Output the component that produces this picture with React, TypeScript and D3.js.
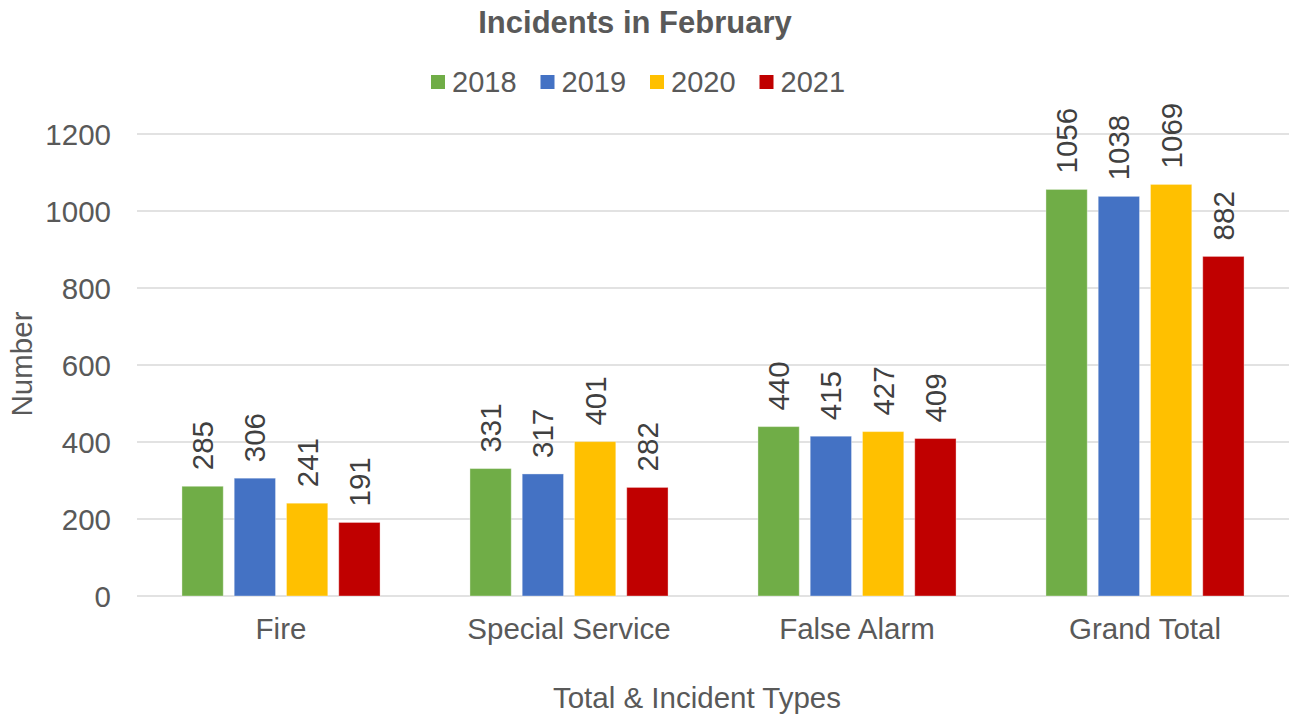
import React from "react";
import * as d3 from "d3";

const categories = ["Fire", "Special Service", "False Alarm", "Grand Total"];
const years = ["2018", "2019", "2020", "2021"];
const values2018 = [285, 331, 440, 1056];
const values2019 = [306, 317, 415, 1038];
const values2020 = [241, 401, 427, 1069];
const values2021 = [191, 282, 409, 882];
const yTicks = [0, 200, 400, 600, 800, 1000, 1200];
const seriesColors = ["#70ad47", "#4472c4", "#ffc000", "#c00000"];

const series = [values2018, values2019, values2020, values2021];

const W = 1295;
const H = 717;
const plot = { left: 137, right: 1289, top: 134, bottom: 596 };
const textColor = "#595959";
const font = "'Liberation Sans', Arial, sans-serif";

export default function App() {
  const x0 = d3.scaleBand<string>().domain(categories).range([plot.left, plot.right]).paddingInner(0);
  const x1 = d3
    .scaleBand<string>()
    .domain(years)
    .range([0, x0.bandwidth()])
    .paddingInner(0.21)
    .paddingOuter(0.86);
  const y = d3.scaleLinear().domain([0, 1200]).range([plot.bottom, plot.top]);

  return (
    <svg
      width={W}
      height={H}
      style={{ position: "absolute", left: 0, top: 0, background: "#fff" }}
      fontFamily={font}
    >
      {/* title */}
      <text x={635} y={33} textAnchor="middle" fontSize={31} fontWeight="bold" fill={textColor}>
        Incidents in February
      </text>

      {/* legend */}
      {years.map((yr, i) => {
        const lx = 431 + i * 109.5;
        return (
          <g key={yr}>
            <rect x={lx} y={75} width={14} height={14} fill={seriesColors[i]} />
            <text x={lx + 21} y={92} fontSize={29} fill={textColor}>
              {yr}
            </text>
          </g>
        );
      })}

      {/* gridlines + y tick labels */}
      {yTicks.map((t) => (
        <g key={t}>
          <line
            x1={plot.left}
            x2={plot.right}
            y1={y(t)}
            y2={y(t)}
            stroke="#d9d9d9"
            strokeWidth={1.5}
          />
          <text
            x={111}
            y={y(t)}
            dy="0.36em"
            textAnchor="end"
            fontSize={29.5}
            fill={textColor}
          >
            {t}
          </text>
        </g>
      ))}

      {/* bars + value labels */}
      {categories.map((cat, ci) => (
        <g key={cat} transform={`translate(${x0(cat)},0)`}>
          {years.map((yr, si) => {
            const v = series[si][ci];
            const bx = x1(yr)!;
            const bw = x1.bandwidth();
            const cx = bx + bw / 2;
            const ty = y(v) - 16;
            return (
              <g key={yr}>
                <rect
                  x={bx}
                  y={y(v)}
                  width={bw}
                  height={y(0) - y(v)}
                  fill={seriesColors[si]}
                  stroke="#ffffff"
                  strokeOpacity={0.35}
                  strokeWidth={1}
                />
                <text
                  transform={`translate(${cx},${ty}) rotate(-90)`}
                  dy="0.36em"
                  fontSize={29.5}
                  fill="#404040"
                >
                  {v}
                </text>
              </g>
            );
          })}
          <text
            x={x0.bandwidth() / 2}
            y={639}
            textAnchor="middle"
            fontSize={29.5}
            fill={textColor}
          >
            {cat}
          </text>
        </g>
      ))}

      {/* axis titles */}
      <text
        transform={`translate(32,364) rotate(-90)`}
        textAnchor="middle"
        fontSize={29.5}
        fill={textColor}
      >
        Number
      </text>
      <text x={697} y={708} textAnchor="middle" fontSize={29.5} fill={textColor}>
        Total &amp; Incident Types
      </text>
    </svg>
  );
}
